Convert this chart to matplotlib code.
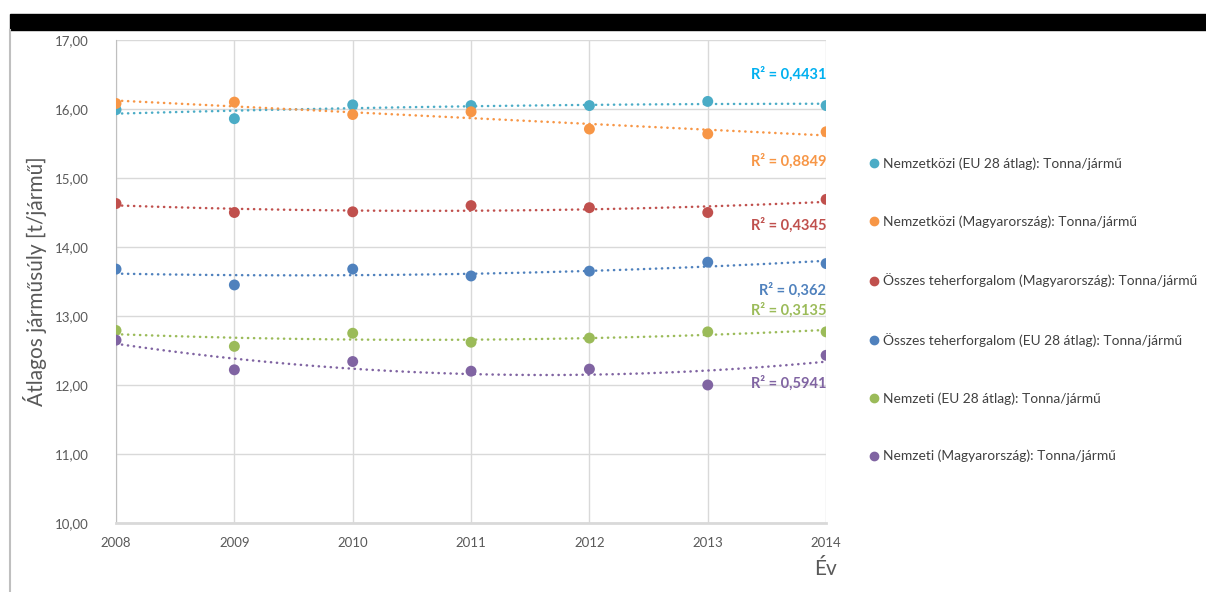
import numpy as np
import matplotlib.pyplot as plt
from matplotlib.lines import Line2D
from matplotlib.patches import Rectangle

plt.rcParams['font.family'] = ['Lato', 'DejaVu Sans']

years = [2008, 2009, 2010, 2011, 2012, 2013, 2014]

# átlagos járműsúly, tonna/jármű
nemzetkozi_eu = [15.99, 15.86, 16.06, 16.05, 16.05, 16.11, 16.05]
nemzetkozi_hu = [16.08, 16.10, 15.92, 15.96, 15.71, 15.64, 15.67]
osszes_hu = [14.63, 14.50, 14.51, 14.60, 14.57, 14.50, 14.69]
osszes_eu = [13.68, 13.45, 13.68, 13.58, 13.65, 13.78, 13.76]
nemzeti_eu = [12.79, 12.56, 12.75, 12.62, 12.68, 12.77, 12.77]
nemzeti_hu = [12.65, 12.22, 12.34, 12.20, 12.23, 12.00, 12.43]

labels = ['Nemzetközi (EU 28 átlag): Tonna/jármű',
          'Nemzetközi (Magyarország): Tonna/jármű',
          'Összes teherforgalom (Magyarország): Tonna/jármű',
          'Összes teherforgalom (EU 28 átlag): Tonna/jármű',
          'Nemzeti (EU 28 átlag): Tonna/jármű',
          'Nemzeti (Magyarország): Tonna/jármű']
r2_text = ['0,4431', '0,8849', '0,4345', '0,362', '0,3135', '0,5941']
r2_y = [16.51, 15.24, 14.31, 13.38, 13.08, 12.03]

series = [nemzetkozi_eu, nemzetkozi_hu, osszes_hu, osszes_eu, nemzeti_eu, nemzeti_hu]
colors = ['#4BACC6', '#F79646', '#C0504D', '#4F81BD', '#9BBB59', '#8064A2']
r2_colors = ['#00B0F0', '#F79646', '#C0504D', '#4F81BD', '#9BBB59', '#8064A2']

fig = plt.figure(figsize=(12.06, 5.92), dpi=100)
ax = fig.add_axes([0.0962, 0.1166, 0.5888, 0.8158])

# fekete sáv felül és a keret bal széle
fig.patches.append(Rectangle((10 / 1206, 1 - 30 / 592), 1, 16 / 592,
                             transform=fig.transFigure, color='black'))
fig.add_artist(Line2D([10 / 1206, 10 / 1206], [0, 1 - 30 / 592],
                      transform=fig.transFigure, color='#BFBFBF', lw=1.5))

xs = np.linspace(2008, 2014, 200)
for vals, c in zip(series, colors):
    coef = np.polyfit(years, vals, 2)
    ax.plot(xs, np.polyval(coef, xs), color=c, lw=1.8,
            linestyle=(0, (0.1, 2.3)), dash_capstyle='round', zorder=2)
    ax.scatter(years, vals, s=62, color=c, edgecolors='none', zorder=3)

for txt, y, c in zip(r2_text, r2_y, r2_colors):
    ax.text(2014, y, 'R² = ' + txt, color=c, fontsize=10.5, fontweight='bold',
            ha='right', va='center')

ax.set_xlim(2008, 2014)
ax.set_ylim(10, 17)
ax.set_xticks(years)
ax.set_yticks(np.arange(10, 17.5, 1))
ax.set_yticklabels([f'{v:.2f}'.replace('.', ',') for v in np.arange(10, 17.5, 1)])
ax.grid(True, color='#D9D9D9', lw=1)
ax.set_axisbelow(True)
for s in ['top', 'right']:
    ax.spines[s].set_visible(False)
ax.spines['left'].set_color('#BFBFBF')
ax.spines['bottom'].set_color('#D9D9D9')
ax.spines['bottom'].set_linewidth(2)
ax.tick_params(length=0, labelsize=9.5, colors='#595959')
ax.tick_params(axis='y', pad=20)
ax.tick_params(axis='x', pad=10)

ax.set_ylabel('Átlagos járműsúly [t/jármű]', fontsize=15, color='#595959', labelpad=5)
fig.text(826 / 1206, 1 - 569 / 592, 'Év', fontsize=15, color='#595959',
         ha='center', va='center')

handles = [Line2D([], [], marker='o', ls='none', color=c, markersize=6) for c in colors]
fig.legend(handles, labels, loc='upper left', bbox_to_anchor=(862 / 1206, 1 - 152 / 592),
           frameon=False, fontsize=9.9, labelcolor='#404040', handletextpad=0.1,
           handlelength=1.0, labelspacing=3.3, borderaxespad=0)

fig.savefig('out.png', dpi=100)
